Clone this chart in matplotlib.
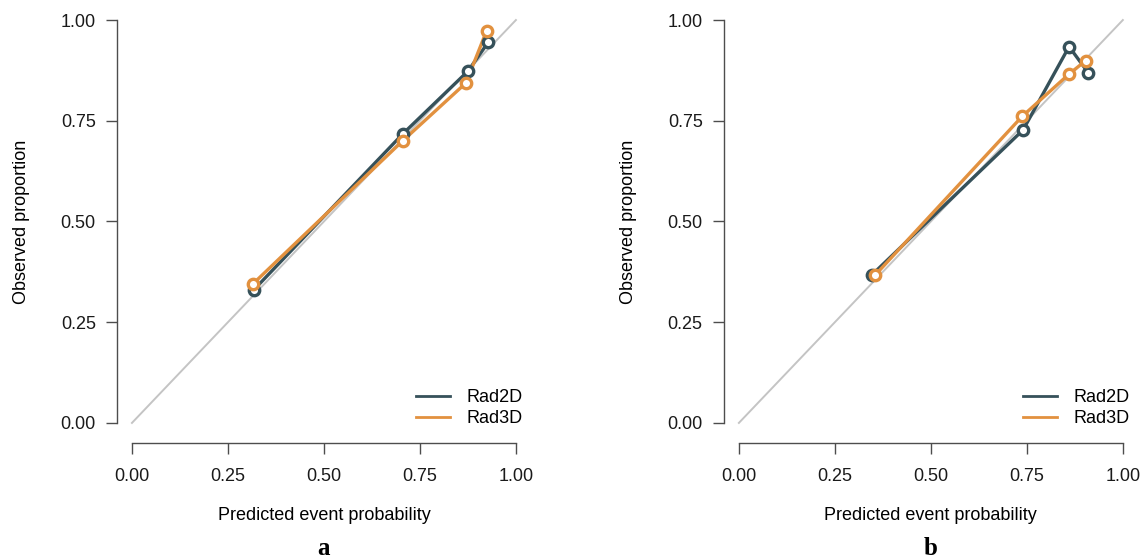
import numpy as np
import matplotlib.pyplot as plt

plt.rcParams['font.family'] = ['Liberation Sans', 'DejaVu Sans']

# panel a
a_pred_2d = [0.317, 0.705, 0.875, 0.928]
a_obs_2d = [0.330, 0.717, 0.873, 0.945]
a_pred_3d = [0.315, 0.705, 0.870, 0.924]
a_obs_3d = [0.345, 0.700, 0.844, 0.974]

# panel b
b_pred_2d = [0.346, 0.740, 0.860, 0.910]
b_obs_2d = [0.367, 0.727, 0.934, 0.869]
b_pred_3d = [0.355, 0.738, 0.860, 0.903]
b_obs_3d = [0.367, 0.761, 0.866, 0.899]

ticks = [0.0, 0.25, 0.5, 0.75, 1.0]
tick_labels = ['0.00', '0.25', '0.50', '0.75', '1.00']
panel_labels = ['a', 'b']

c2d = '#36515a'
c3d = '#e2913f'
axis_col = '#4d4d4d'
fs = 13

fig = plt.figure(figsize=(11.43, 5.6), dpi=100)
ax_a = fig.add_axes([0.102, 0.216, 0.3628, 0.777])
ax_b = fig.add_axes([0.633, 0.216, 0.3628, 0.777])

panels = [
    (ax_a, a_pred_2d, a_obs_2d, a_pred_3d, a_obs_3d),
    (ax_b, b_pred_2d, b_obs_2d, b_pred_3d, b_obs_3d),
]

for (ax, p2, o2, p3, o3), lab in zip(panels, panel_labels):
    ax.plot([0, 1], [0, 1], color='#c4c4c4', lw=1.4, zorder=1)
    ax.plot(p2, o2, color=c2d, lw=2.4, label='Rad2D', zorder=2)
    ax.plot(p3, o3, color=c3d, lw=2.4, label='Rad3D', zorder=3)
    ax.plot(p2, o2, ls='none', marker='o', ms=7.5, mew=2.4,
            mfc='white', mec=c2d, zorder=4)
    ax.plot(p3, o3, ls='none', marker='o', ms=7.5, mew=2.4,
            mfc='white', mec=c3d, zorder=5)

    ax.set_xlim(-0.04, 1.04)
    ax.set_ylim(-0.04, 1.04)
    ax.set_xticks(ticks)
    ax.set_xticklabels(tick_labels)
    ax.set_yticks(ticks)
    ax.set_yticklabels(tick_labels)
    for s in ['top', 'right']:
        ax.spines[s].set_visible(False)
    for s in ['left', 'bottom']:
        ax.spines[s].set_bounds(0, 1)
        ax.spines[s].set_color(axis_col)
        ax.spines[s].set_linewidth(1.0)
    ax.spines['bottom'].set_position(('outward', 3))
    ax.tick_params(length=8, width=1.0, color=axis_col, labelsize=fs,
                   labelcolor='#1a1a1a')
    ax.tick_params(axis='x', pad=10)
    ax.tick_params(axis='y', pad=7)

    ax.set_xlabel('Predicted event probability', fontsize=fs, labelpad=16)
    ax.set_ylabel('Observed proportion', fontsize=fs, labelpad=22)

    leg = ax.legend(loc='lower right', bbox_to_anchor=(0.997, 0.01),
                    frameon=False, fontsize=fs, handlelength=1.9,
                    handletextpad=0.9, labelspacing=0.25, borderaxespad=0)
    for h in leg.get_lines():
        h.set_linewidth(2.0)

    ax.text(0.5, -0.2525, lab, transform=ax.transAxes, ha='center', va='center',
            fontsize=18, fontweight='bold', family='Liberation Serif')

fig.savefig('out.png', dpi=100)
